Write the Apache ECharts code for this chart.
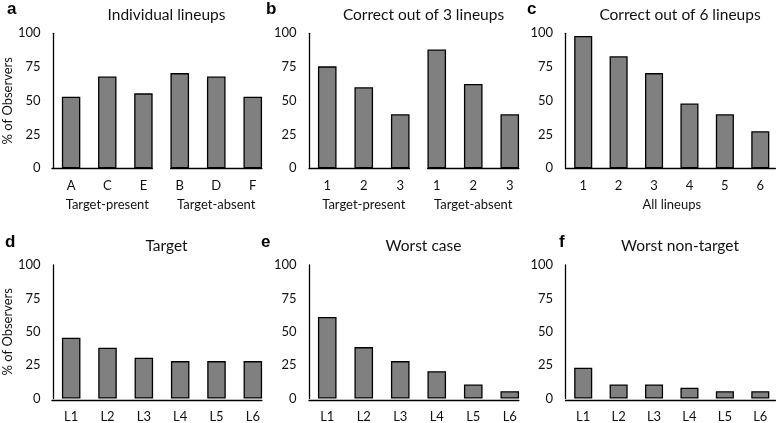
<!DOCTYPE html>
<html><head><meta charset="utf-8">
<script src="https://cdn.jsdelivr.net/npm/echarts@6/dist/echarts.min.js"></script>
<style>html,body{margin:0;padding:0;background:#fff}#c{width:778px;height:423px}</style>
</head><body><div id="c"></div>
<script>
// ---- data ----
const catsA1 = ['A', 'C', 'E'];
const catsA2 = ['B', 'D', 'F'];
const valsA1 = [53, 68, 55.5];
const valsA2 = [70.5, 68, 53];
const catsB = ['1', '2', '3'];
const valsB1 = [75.5, 60, 40];
const valsB2 = [88, 62.5, 40];
const catsC = ['1', '2', '3', '4', '5', '6'];
const valsC = [98, 83, 70.5, 48, 40, 27.5];
const catsL = ['L1', 'L2', 'L3', 'L4', 'L5', 'L6'];
const valsD = [45.5, 38, 30.5, 28, 28, 28];
const valsE = [61, 38.5, 28, 20.5, 10.5, 5.5];
const valsF = [23, 10.5, 10.5, 8, 5.5, 5.5];
const yTicks = [0, 25, 50, 75, 100];
const titlesTop = ['Individual lineups', 'Correct out of 3 lineups', 'Correct out of 6 lineups'];
const titlesBot = ['Target', 'Worst case', 'Worst non-target'];
const lettersTop = ['a', 'b', 'c'];
const lettersBot = ['d', 'e', 'f'];
const groupNames = ['Target-present', 'Target-absent', 'All lineups'];
const yName = '% of Observers';

// ---- layout ----
const X0 = [52, 309, 565.5];
const TOP = [33.3, 265];
const PH = 135;
const CW = 36.5;
const FONT = 'Lato';
const TXT = '#111';
const FS = 13;

const grid = [], xAxis = [], yAxis = [], series = [], title = [];

function addBars(left, top, cats, vals, o) {
  const gi = grid.length;
  grid.push({ left: left, top: top, width: cats.length * CW, height: PH });
  xAxis.push({
    gridIndex: gi, type: 'category', data: cats,
    axisLine: { show: false }, axisTick: { show: false },
    axisLabel: { color: TXT, fontFamily: FONT, fontSize: FS, margin: 11.5 },
    name: o.group || '', nameLocation: 'middle', nameGap: 30,
    nameTextStyle: { color: TXT, fontFamily: FONT, fontSize: FS }
  });
  yAxis.push({
    gridIndex: gi, type: 'value', min: 0, max: 100, interval: 25,
    show: !!o.showY,
    axisLine: { show: true, lineStyle: { color: '#000', width: 1.3 } },
    axisTick: { show: false }, splitLine: { show: false },
    axisLabel: { color: TXT, fontFamily: FONT, fontSize: FS, margin: 12.5,
      formatter: v => yTicks.includes(v) ? String(v) : '' },
    name: o.yName || '', nameLocation: 'middle', nameGap: 37, nameRotate: 90,
    nameTextStyle: { color: TXT, fontFamily: FONT, fontSize: FS }
  });
  series.push({
    type: 'bar', xAxisIndex: gi, yAxisIndex: gi, data: vals, barWidth: '51%',
    itemStyle: { color: '#808080', borderColor: '#000', borderWidth: 1.3 },
    silent: true
  });
}
function addBase(x1, x2, top) {
  const gi = grid.length;
  grid.push({ left: x1, top: top, width: x2 - x1, height: PH });
  xAxis.push({ gridIndex: gi, type: 'value', min: 0, max: 1,
    axisLine: { show: true, lineStyle: { color: '#000', width: 1.3 } },
    axisTick: { show: false }, axisLabel: { show: false }, splitLine: { show: false } });
  yAxis.push({ gridIndex: gi, type: 'value', min: 0, max: 1, show: false, splitLine: { show: false } });
}

// panel a
addBars(X0[0], TOP[0], catsA1, valsA1, { showY: true, yName: yName, group: groupNames[0] });
addBars(X0[0] + 3 * CW, TOP[0], catsA2, valsA2, { group: groupNames[1] });
addBase(X0[0], X0[0] + 2.75 * CW, TOP[0]);
addBase(X0[0] + 3.25 * CW, X0[0] + 5.75 * CW, TOP[0]);
// panel b
addBars(X0[1], TOP[0], catsB, valsB1, { showY: true, group: groupNames[0] });
addBars(X0[1] + 3 * CW, TOP[0], catsB, valsB2, { group: groupNames[1] });
addBase(X0[1], X0[1] + 2.75 * CW, TOP[0]);
addBase(X0[1] + 3.25 * CW, X0[1] + 5.75 * CW, TOP[0]);
// panel c
addBars(X0[2], TOP[0], catsC, valsC, { showY: true, group: groupNames[2] });
addBase(X0[2], X0[2] + 5.75 * CW, TOP[0]);
// panels d e f
addBars(X0[0], TOP[1], catsL, valsD, { showY: true, yName: yName });
addBase(X0[0], X0[0] + 5.75 * CW, TOP[1]);
addBars(X0[1], TOP[1], catsL, valsE, { showY: true });
addBase(X0[1], X0[1] + 5.75 * CW, TOP[1]);
addBars(X0[2], TOP[1], catsL, valsF, { showY: true });
addBase(X0[2], X0[2] + 5.75 * CW, TOP[1]);

// titles
const titleY = [2, 233];
const letterX = [7, 266, 527];
const letterXB = [5, 261, 559];
for (let i = 0; i < 3; i++) {
  title.push({ text: titlesTop[i], left: X0[i] + 3 * CW, top: titleY[0], textAlign: 'center',
    textStyle: { color: TXT, fontFamily: FONT, fontSize: 15.5, fontWeight: 'normal' } });
  title.push({ text: titlesBot[i], left: X0[i] + 3 * CW, top: titleY[1], textAlign: 'center',
    textStyle: { color: TXT, fontFamily: FONT, fontSize: 15.5, fontWeight: 'normal' } });
  title.push({ text: lettersTop[i], left: letterX[i], top: 1, padding: 0,
    textStyle: { color: '#000', fontFamily: 'Liberation Sans', fontSize: 17, fontWeight: 'bold' } });
  title.push({ text: lettersBot[i], left: letterXB[i], top: 234, padding: 0,
    textStyle: { color: '#000', fontFamily: 'Liberation Sans', fontSize: 17, fontWeight: 'bold' } });
}

const chart = echarts.init(document.getElementById('c'), null, { renderer: 'canvas' });
chart.setOption({
  animation: false, backgroundColor: '#fff',
  title: title, grid: grid, xAxis: xAxis, yAxis: yAxis, series: series
});
</script></body></html>
